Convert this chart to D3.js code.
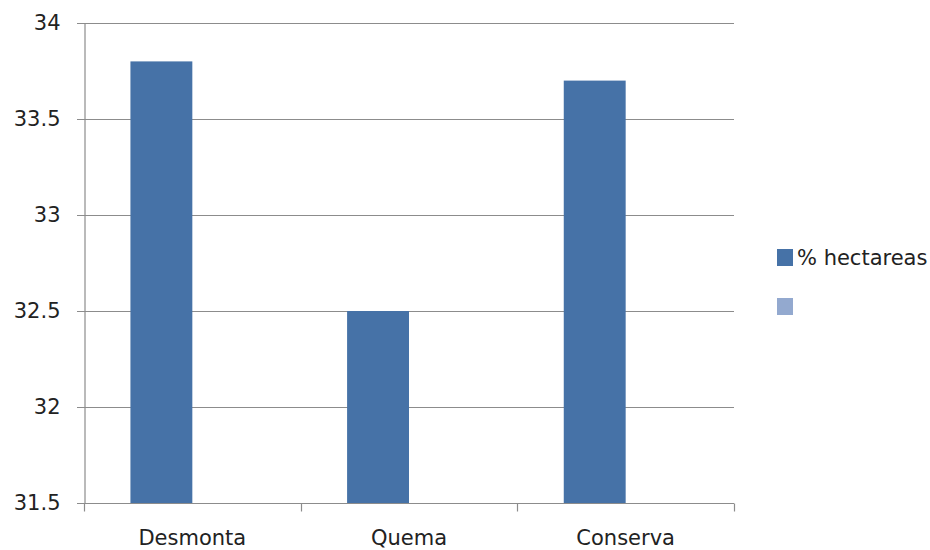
<!DOCTYPE html>
<html>
<head>
<meta charset="utf-8">
<script src="https://cdn.jsdelivr.net/npm/d3@7"></script>
<style>
  html, body { margin: 0; padding: 0; background: #fff; }
  svg { display: block; }
  text { font-family: "DejaVu Sans", sans-serif; fill: #222; }
</style>
</head>
<body>
<svg id="chart" width="930" height="550"></svg>
<script>
// Categories and series
const categories = ["Desmonta", "Quema", "Conserva"];
const seriesNames = ["% hectareas", ""];
const hectareas = [33.8, 32.5, 33.7];
const secondSeries = [null, null, null];
const yTicks = [31.5, 32, 32.5, 33, 33.5, 34];
const seriesColors = ["#4672A7", "#93A9CF"];

const svg = d3.select("#chart");
const plot = { left: 84, right: 734, top: 23, bottom: 503 };

const x = d3.scaleBand().domain(categories).range([plot.left, plot.right]).paddingInner(0).paddingOuter(0);
const xSeries = d3.scaleBand().domain(d3.range(seriesNames.length))
  .range([0, x.bandwidth()]).paddingInner(0).paddingOuter(0.75);
const y = d3.scaleLinear().domain([31.5, 34]).range([plot.bottom, plot.top]);

// Horizontal gridlines
svg.append("g")
  .selectAll("line")
  .data(yTicks)
  .join("line")
  .attr("x1", plot.left - 7)
  .attr("x2", plot.right)
  .attr("y1", d => Math.round(y(d)) + 0.5)
  .attr("y2", d => Math.round(y(d)) + 0.5)
  .attr("stroke", "#8c8c8c")
  .attr("stroke-width", 1.2);

// Bars
const seriesData = [hectareas, secondSeries];
seriesData.forEach((vals, si) => {
  svg.append("g")
    .selectAll("rect")
    .data(categories.map((c, i) => ({ c, v: vals[i] })).filter(d => d.v != null))
    .join("rect")
    .attr("x", d => x(d.c) + xSeries(si))
    .attr("width", xSeries.bandwidth())
    .attr("y", d => y(d.v))
    .attr("height", d => y(31.5) - y(d.v))
    .attr("fill", seriesColors[si]);
});

// Y axis
const yAxis = svg.append("g")
  .attr("transform", `translate(${plot.left + 0.5},0)`)
  .call(d3.axisLeft(y).tickValues(yTicks).tickSize(0).tickPadding(24).tickFormat(d3.format("")));
yAxis.select(".domain").attr("stroke", "#8c8c8c").attr("stroke-width", 1.2);
yAxis.selectAll("text").style("font-size", "21px").style("font-family", "'DejaVu Sans', sans-serif").attr("fill", "#222");

// X axis with boundary ticks between categories
const xAxis = svg.append("g").attr("transform", `translate(0,${Math.round(plot.bottom) + 0.5})`);
xAxis.append("line")
  .attr("x1", plot.left).attr("x2", plot.right)
  .attr("stroke", "#8c8c8c").attr("stroke-width", 1.2);
const boundaries = categories.map(c => x(c)).concat([x(categories[categories.length - 1]) + x.bandwidth()]);
xAxis.selectAll("line.tick")
  .data(boundaries)
  .join("line")
  .attr("class", "tick")
  .attr("x1", d => Math.round(d) + 0.5).attr("x2", d => Math.round(d) + 0.5)
  .attr("y1", 0).attr("y2", 8)
  .attr("stroke", "#8c8c8c").attr("stroke-width", 1.2);
xAxis.selectAll("text")
  .data(categories)
  .join("text")
  .attr("x", d => x(d) + x.bandwidth() / 2)
  .attr("y", 41)
  .attr("text-anchor", "middle")
  .style("font-size", "21px")
  .text(d => d);

// Legend
const legend = svg.append("g").attr("transform", "translate(777,249)");
seriesNames.forEach((name, i) => {
  const row = legend.append("g").attr("transform", `translate(0,${i * 49})`);
  row.append("rect").attr("width", 16).attr("height", 17).attr("fill", seriesColors[i]);
  row.append("text").attr("x", 20).attr("y", 16).style("font-size", "21px").text(name);
});
</script>
</body>
</html>
